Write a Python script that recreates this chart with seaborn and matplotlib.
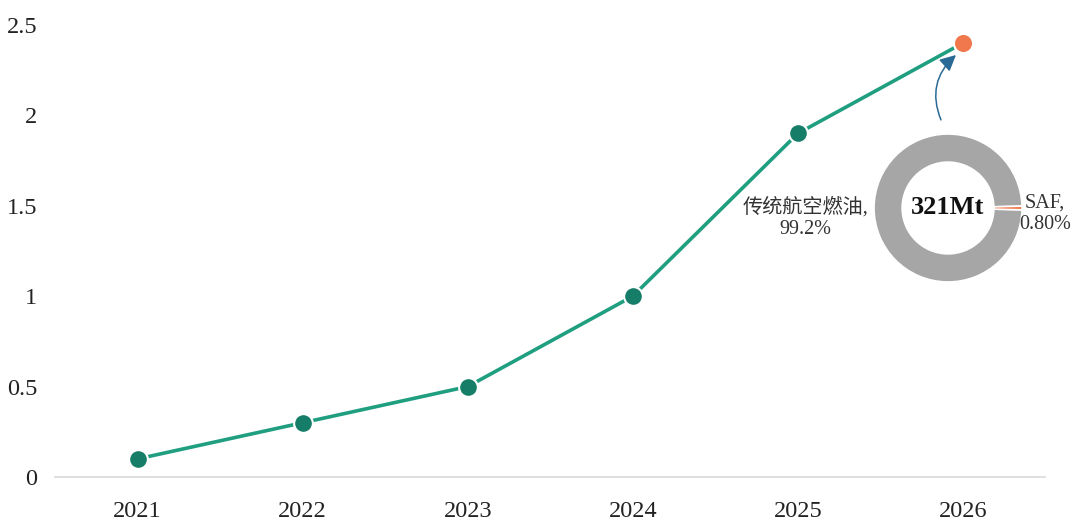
import matplotlib
matplotlib.use("Agg")
from matplotlib import pyplot as plt
import seaborn as sns
import pandas as pd

years = ["2021", "2022", "2023", "2024", "2025", "2026"]
saf_values = [0.1, 0.3, 0.5, 1.0, 1.9, 2.4]
y_ticks = [0, 0.5, 1, 1.5, 2, 2.5]
y_tick_labels = ["0", "0.5", "1", "1.5", "2", "2.5"]

pie_labels = ["传统航空燃油,\n99.2%", "SAF,\n0.80%"]
pie_shares = [99.2, 0.8]
pie_center_text = "321Mt"

sns.set_theme(style="white")
plt.rcParams['font.family'] = ['Liberation Serif', 'Noto Sans CJK SC', 'DejaVu Sans']

df = pd.DataFrame({"year": years, "value": saf_values})

fig = plt.figure(figsize=(10.8, 5.26), dpi=100)
ax = fig.add_axes([0.051, 0.0932, 0.917, 0.8593])

sns.lineplot(data=df, x="year", y="value", ax=ax, color="#1f9e80", linewidth=2.6,
             marker="o", markersize=13.5, markerfacecolor="#167d68",
             markeredgecolor="white", markeredgewidth=1.5, sort=False)
# highlight the final year
last = df.iloc[[-1]]
sns.scatterplot(data=last, x="year", y="value", ax=ax, s=190, color="#f0784c",
                edgecolor="white", linewidth=1.5, zorder=5)

ax.set_xlim(-0.5, len(years) - 0.5)
ax.set_ylim(0, 2.5)
ax.set_yticks(y_ticks)
ax.set_yticklabels(y_tick_labels)
ax.set_xlabel("")
ax.set_ylabel("")
ax.tick_params(axis="both", labelsize=17.5, colors="#222222", length=0)
ax.tick_params(axis="x", pad=17)
ax.tick_params(axis="y", pad=13)
for s in ["top", "right", "left"]:
    ax.spines[s].set_visible(False)
ax.spines["bottom"].set_color("#d9d9d9")
ax.spines["bottom"].set_linewidth(1.2)

# curved arrow from the donut to the 2026 point
n = len(years) - 1
ax.annotate("", xy=(n - 0.042, saf_values[-1] - 0.066), xytext=(n - 0.133, saf_values[-1] - 0.425),
            arrowprops=dict(arrowstyle="-|>,head_length=0.8,head_width=0.4", color="#2a6a96",
                            lw=1.1, connectionstyle="arc3,rad=-0.35", shrinkA=0, shrinkB=0))

# donut inset
pax = fig.add_axes([0.8093, 0.4639, 0.137, 0.2814])
pax.pie(pie_shares, colors=["#a6a6a6", "#f0784c"], startangle=1.44, counterclock=True,
        wedgeprops=dict(width=0.38, edgecolor="white", linewidth=1.2))
pax.set_xlim(-1, 1)
pax.set_ylim(-1, 1)
pax.set_aspect("equal")
pax.text(0, 0, pie_center_text, ha="center", va="center", fontsize=19, fontweight="bold",
         color="#111111")
fig.text(805 / 1080, 1 - 218 / 526, pie_labels[0], ha="center", va="center", fontsize=14.5,
         color="#333333", linespacing=1.15)
fig.text(1045 / 1080, 1 - 214 / 526, pie_labels[1], ha="center", va="center", fontsize=14.5,
         color="#333333", linespacing=1.15)

fig.savefig("out.png", dpi=100)
